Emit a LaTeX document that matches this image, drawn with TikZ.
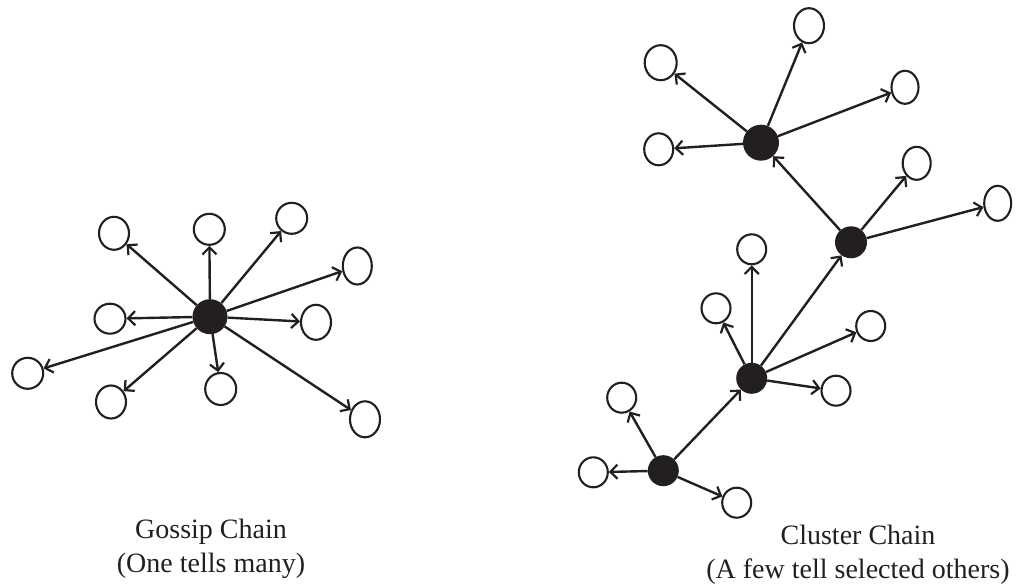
\documentclass[tikz,border=0pt]{standalone}
\usepackage{fontspec}
\setmainfont{Liberation Serif}
\usetikzlibrary{arrows.meta,shapes.geometric}
\definecolor{ink}{HTML}{231F20}
\begin{document}
\begin{tikzpicture}[x=1pt,y=-1pt,
  leaf/.style={ellipse, draw=ink, line width=2.1pt, inner sep=0pt, minimum width=30pt, minimum height=33pt},
  sleaf/.style={leaf, minimum width=29pt, minimum height=30pt},
  hub/.style={circle, fill=ink, inner sep=0pt, minimum size=#1},
  arr/.style={draw=ink, line width=2.4pt, -{Straight Barb[angle=90:10pt, line width=2.2pt]}},
  lbl/.style={align=center, font=\fontsize{28}{34}\selectfont, text=ink, inner sep=0pt}
]
\useasboundingbox (0,0) rectangle (1026,585);

% ---- Gossip chain ----
\node[hub=35pt] (L) at (210,316.7) {};
\node[leaf] (l1) at (114,233.3) {};
\node[leaf, minimum width=31pt, minimum height=31pt] (l2) at (209.3,229.3) {};
\node[leaf, minimum width=31pt, minimum height=31pt] (l3) at (291.7,218.3) {};
\node[leaf, minimum width=29pt, minimum height=37pt] (l4) at (357.3,266) {};
\node[leaf, minimum width=30pt, minimum height=35pt] (l5) at (316,322.3) {};
\node[leaf, minimum width=31pt, minimum height=30pt] (l6) at (110,318.7) {};
\node[leaf, minimum width=31pt, minimum height=31pt] (l7) at (27.7,373.3) {};
\node[leaf] (l8) at (111,402) {};
\node[leaf, minimum width=31pt, minimum height=32pt] (l9) at (220.7,389) {};
\node[leaf, minimum width=30pt, minimum height=36pt] (l10) at (365,419.3) {};
\foreach \t in {l1,l2,l3,l4,l5,l6,l7,l8,l9,l10}
  \draw[arr] (L) -- (\t);

% ---- Cluster chain ----
\node[hub=36pt] (A) at (761,142.7) {};
\node[hub=32pt] (B) at (851,242.3) {};
\node[hub=31pt] (C) at (751.7,378.3) {};
\node[hub=31pt] (D) at (663.3,470.7) {};

\node[leaf, minimum width=30pt, minimum height=35pt] (a1) at (809,25.7) {};
\node[leaf, minimum width=32pt, minimum height=35pt] (a2) at (660.7,62.7) {};
\node[leaf, minimum width=27pt, minimum height=33pt] (a3) at (905,87.3) {};
\node[leaf, minimum width=29pt, minimum height=32pt] (a4) at (658.7,149.3) {};
\node[leaf, minimum width=28pt, minimum height=33pt] (b1) at (916.7,163.3) {};
\node[leaf, minimum width=27pt, minimum height=35pt] (b2) at (997.7,203.3) {};
\node[sleaf] (c1) at (751.7,249.3) {};
\node[sleaf] (c2) at (716,308.3) {};
\node[sleaf] (c3) at (870.7,326) {};
\node[sleaf] (c4) at (836,390.7) {};
\node[sleaf] (d1) at (621.7,397.7) {};
\node[sleaf] (d2) at (593.3,472.3) {};
\node[sleaf] (d3) at (736.7,502.7) {};

\draw[arr] (D) -- (C);
\draw[arr] (C) -- (B);
\draw[arr] (B) -- (A);
\foreach \t in {a1,a2,a3,a4} \draw[arr] (A) -- (\t);
\foreach \t in {b1,b2} \draw[arr] (B) -- (\t);
\foreach \t in {c1,c2,c3,c4} \draw[arr] (C) -- (\t);
\foreach \t in {d1,d2,d3} \draw[arr] (D) -- (\t);

% ---- labels ----
\node[lbl, anchor=base] (gl) at (211,572) {Gossip Chain\\(One tells many)};
\node[lbl, anchor=base] (cl) at (858,578) {Cluster Chain\\(A few tell selected others)};
\end{tikzpicture}
\end{document}
